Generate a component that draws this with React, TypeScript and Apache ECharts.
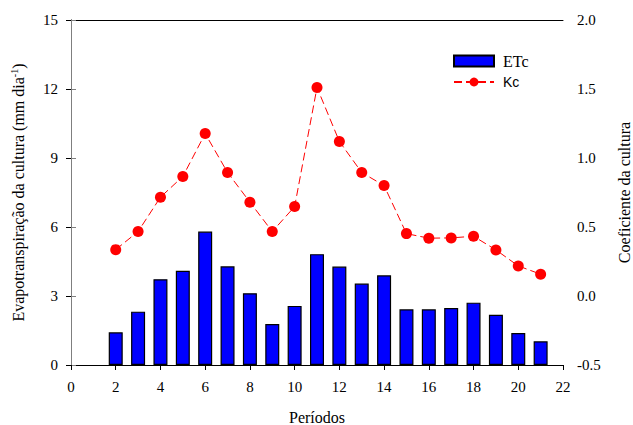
import React, { useEffect, useRef } from "react";
import * as echarts from "echarts";

const periods = [2, 3, 4, 5, 6, 7, 8, 9, 10, 11, 12, 13, 14, 15, 16, 17, 18, 19, 20, 21];
const etcValues = [1.42, 2.32, 3.73, 4.1, 5.8, 4.29, 3.12, 1.78, 2.57, 4.82, 4.28, 3.54, 3.9, 2.42, 2.42, 2.48, 2.71, 2.18, 1.39, 1.03];
const kcValues = [0.336, 0.467, 0.716, 0.866, 1.177, 0.895, 0.68, 0.467, 0.648, 1.511, 1.12, 0.895, 0.8, 0.452, 0.419, 0.421, 0.433, 0.334, 0.218, 0.158];

const SERIF = "'Liberation Serif', 'Times New Roman', serif";
const SANS = "'Liberation Sans', Arial, sans-serif";

export default function App() {
  const ref = useRef<HTMLDivElement>(null);
  useEffect(() => {
    if (!ref.current) return;
    const chart = echarts.init(ref.current, null, { renderer: "svg", width: 633, height: 425 });
    const axisText = { color: "#000", fontFamily: SERIF, fontSize: 15 };
    const nameText = { color: "#000", fontFamily: SERIF, fontSize: 16 };
    chart.setOption({
      animation: false,
      grid: { left: 71, right: 70, top: 20, bottom: 60, containLabel: false, outerBoundsMode: "none" },
      legend: {
        orient: "vertical",
        left: 448,
        top: 48,
        itemWidth: 40,
        itemHeight: 11,
        itemGap: 6,
        data: [{ name: "ETc", icon: "rect" }, { name: "Kc" }],
        formatter: (name: string) => (name === "ETc" ? "{s|ETc}" : "{a|Kc}"),
        textStyle: {
          padding: [0, 0, 0, 4],
          rich: {
            s: { fontFamily: SERIF, fontSize: 16, color: "#000" },
            a: { fontFamily: SANS, fontSize: 14, color: "#000" },
          },
        },
      },
      xAxis: [
        {
          type: "value",
          min: 0,
          max: 22,
          interval: 2,
          name: "Períodos",
          nameLocation: "middle",
          nameGap: 44,
          nameTextStyle: { ...nameText },
          axisLine: { lineStyle: { color: "#000", width: 1 } },
          axisTick: { length: 5, lineStyle: { color: "#000" } },
          axisLabel: { ...axisText, margin: 14 },
          splitLine: { show: false },
        },
        {
          type: "value",
          position: "top",
          min: 0,
          max: 22,
          interval: 2,
          axisLine: { show: true, onZero: false, lineStyle: { color: "#000", width: 1 } },
          axisTick: { show: false },
          axisLabel: { show: false },
          splitLine: { show: false },
        },
      ],
      yAxis: [
        {
          type: "value",
          min: 0,
          max: 15,
          interval: 3,
          name: "Evapotranspiração da cultura (mm dia{sup|-1})",
          nameLocation: "middle",
          nameRotate: 90,
          nameGap: 44,
          nameTextStyle: {
            ...nameText,
            rich: {
              sup: { fontFamily: SERIF, fontSize: 10, color: "#000", verticalAlign: "top", padding: [0, 0, 8, 0] },
            },
          },
          axisLine: { show: true, lineStyle: { color: "#000", width: 1 } },
          axisTick: { show: true, length: 5, lineStyle: { color: "#000" } },
          axisLabel: { ...axisText, margin: 13 },
          splitLine: { show: false },
        },
        {
          type: "value",
          position: "right",
          min: -0.5,
          max: 2.0,
          interval: 0.5,
          name: "Coeficiente da cultura",
          nameLocation: "middle",
          nameRotate: 90,
          nameGap: 53,
          nameTextStyle: { ...nameText },
          axisLine: { show: true, lineStyle: { color: "#7f7f7f", width: 1 } },
          axisTick: { show: true, length: 5, lineStyle: { color: "#7f7f7f" } },
          axisLabel: { ...axisText, margin: 14, formatter: (v: number) => v.toFixed(1) },
          splitLine: { show: false },
        },
      ],
      series: [
        {
          name: "ETc",
          type: "bar",
          xAxisIndex: 0,
          yAxisIndex: 0,
          barWidth: 14,
          data: periods.map((p, i) => [p, etcValues[i]]),
          itemStyle: { color: "#0000ff", borderColor: "#000", borderWidth: 1.2 },
        },
        {
          name: "Kc",
          type: "line",
          xAxisIndex: 0,
          yAxisIndex: 1,
          data: periods.map((p, i) => [p, kcValues[i]]),
          symbol: "circle",
          symbolSize: 11,
          lineStyle: { color: "#ff0000", width: 1, type: [8, 4] },
          itemStyle: { color: "#ff0000" },
        },
      ],
    });
    return () => chart.dispose();
  }, []);
  return (
    <div
      ref={ref}
      style={{ position: "absolute", left: 0, top: 0, width: 633, height: 425, overflow: "hidden" }}
    />
  );
}
